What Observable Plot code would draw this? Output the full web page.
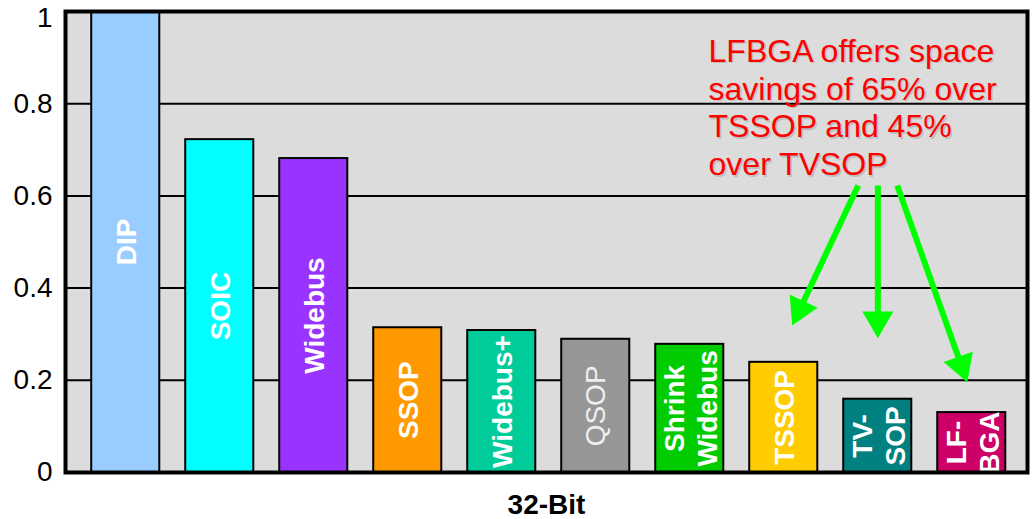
<!DOCTYPE html>
<html>
<head>
<meta charset="utf-8">
<script src="https://cdn.jsdelivr.net/npm/d3@7"></script>
<script src="https://cdn.jsdelivr.net/npm/@observablehq/plot@0.6"></script>
<style>
  html, body { margin: 0; padding: 0; background: white; }
  #chart svg { display: block; }
</style>
</head>
<body>
<div id="chart"></div>
<script>
// ---- Data ----
const categories = ["DIP", "SOIC", "Widebus", "SSOP", "Widebus+", "QSOP", "Shrink Widebus", "TSSOP", "TV-SOP", "LF-BGA"];
const barLabels = ["DIP", "SOIC", "Widebus", "SSOP", "Widebus+", "QSOP", "Shrink\nWidebus", "TSSOP", "TV-\nSOP", "LF-\nBGA"];
const values = [1.0, 0.722, 0.681, 0.314, 0.308, 0.289, 0.278, 0.239, 0.159, 0.130];
const barColors = ["#99ccff", "#00ffff", "#9933ff", "#ff9900", "#00cc99", "#969696", "#00cc00", "#ffcc00", "#008080", "#cc0066"];
const yTicks = [0, 0.2, 0.4, 0.6, 0.8, 1];
const gridTicks = [0.2, 0.4, 0.6, 0.8];
const xTitle = "32-Bit";

// annotation
const noteText = "LFBGA offers space\nsavings of 65% over\nTSSOP and 45%\nover TVSOP";
const noteX = 6.200, noteY = 0.949;
// arrows (x in bar-index units, y in value units)
const arrowX1 = [7.792, 8.001, 8.207];
const arrowY1 = [0.6226, 0.6226, 0.6226];
const arrowX2 = [7.090, 8.001, 8.952];
const arrowY2 = [0.319, 0.291, 0.196];

// ---- Build ----
const table = categories.map((c, i) => ({category: c, index: i, value: values[i], label: barLabels[i]}));
const arrows = arrowX1.map((x, i) => ({x1: x, y1: arrowY1[i], x2: arrowX2[i], y2: arrowY2[i]}));

const W = 1036, H = 519;
const mL = 65, mR = 9, mT = 11, mB = 47;
const xOpts = {type: "linear", domain: [-0.641, 9.593], range: [mL, W - mR]};
const yOpts = {type: "linear", domain: [0, 1], range: [H - mB, mT]};
const xs = Plot.scale({x: xOpts});
const ys = Plot.scale({y: yOpts});

// arrowhead triangles, tip at arrow end
const headR = 11.5;
const tipDist = 2 * Math.sqrt(Math.PI / (3 * Math.sqrt(3))) * headR;
const heads = arrows.map(a => {
  const px1 = xs.apply(a.x1), py1 = ys.apply(a.y1);
  const px2 = xs.apply(a.x2), py2 = ys.apply(a.y2);
  const dx = px2 - px1, dy = py2 - py1, len = Math.hypot(dx, dy);
  const ux = dx / len, uy = dy / len;
  const cx = px2 - ux * tipDist, cy = py2 - uy * tipDist;
  return {x: xs.invert(cx), y: ys.invert(cy), rotate: Math.atan2(ux, -uy) * 180 / Math.PI};
});

const font = "'Liberation Sans', Arial, Helvetica, sans-serif";
const halfBar = 0.362;

const chart = Plot.plot({
  width: W,
  height: H,
  marginLeft: mL,
  marginRight: mR,
  marginTop: mT,
  marginBottom: mB,
  style: {fontFamily: font, background: "white", overflow: "visible"},
  x: {...xOpts, axis: null},
  y: {...yOpts},
  color: {domain: categories, range: barColors},
  marks: [
    Plot.frame({fill: "#dcdcdc", stroke: "none"}),
    Plot.ruleY(gridTicks, {stroke: "black", strokeWidth: 2}),
    Plot.rect(table, {
      x1: d => d.index - halfBar,
      x2: d => d.index + halfBar,
      y1: 0,
      y2: "value",
      fill: "category",
      stroke: "black",
      strokeWidth: 2
    }),
    Plot.text(table.filter(d => d.category !== "QSOP"), {
      x: "index",
      y: d => d.value / 2,
      text: "label",
      rotate: -90,
      fill: "white",
      fontSize: 28,
      fontWeight: "bold",
      lineHeight: 1.17,
      textAnchor: "middle",
      lineAnchor: "middle"
    }),
    Plot.text(table.filter(d => d.category === "QSOP"), {
      x: "index",
      y: d => d.value / 2,
      text: "label",
      rotate: -90,
      fill: "#eeeeee",
      fontSize: 28,
      fontWeight: "normal",
      textAnchor: "middle",
      lineAnchor: "middle"
    }),
    Plot.frame({stroke: "black", strokeWidth: 4}),
    Plot.axisY(yTicks.filter(t => t < 1), {
      tickSize: 0, tickPadding: 13, fontSize: 28, tickFormat: d => String(d), label: null
    }),
    Plot.axisY([1], {
      tickSize: 0, tickPadding: 13, fontSize: 28, tickFormat: d => String(d), label: null, dy: 7
    }),
    Plot.text([xTitle], {
      frameAnchor: "bottom",
      text: d => d,
      dy: 41,
      lineAnchor: "bottom",
      fontSize: 28,
      fontWeight: "bold",
      fill: "black"
    }),
    // annotation text (with faint shadow)
    Plot.text([noteText], {
      x: noteX, y: noteY, text: d => d, textAnchor: "start", lineAnchor: "top",
      fontSize: 32, lineHeight: 1.18, fill: "#999999", fillOpacity: 0.45, dx: 1.5, dy: 1.5
    }),
    Plot.text([noteText], {
      x: noteX, y: noteY, text: d => d, textAnchor: "start", lineAnchor: "top",
      fontSize: 32, lineHeight: 1.18, fill: "#ff0000"
    }),
    // arrows
    Plot.link(arrows.map((a, i) => ({...a, hx: heads[i].x, hy: heads[i].y})), {
      x1: "x1", y1: "y1", x2: "hx", y2: "hy", stroke: "#00ff00", strokeWidth: 6
    }),
    Plot.dot(heads, {
      x: "x", y: "y", rotate: "rotate", symbol: "triangle", r: headR, fill: "#00ff00", stroke: "none"
    })
  ]
});

document.getElementById("chart").appendChild(chart);
</script>
</body>
</html>
